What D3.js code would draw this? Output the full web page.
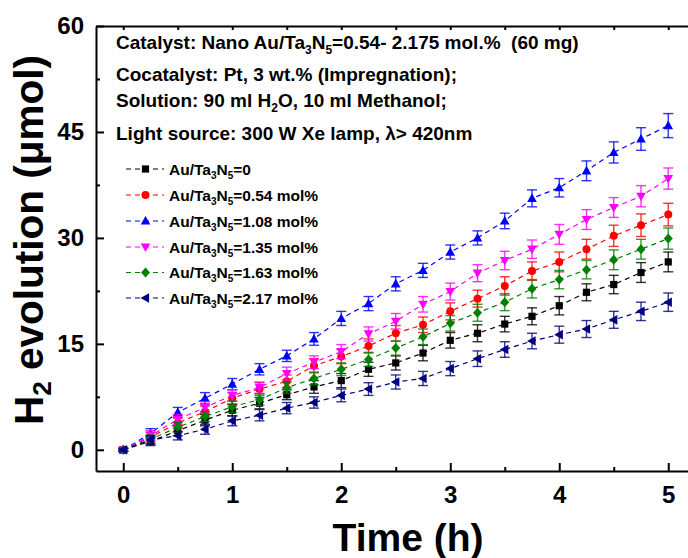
<!DOCTYPE html>
<html>
<head>
<meta charset="utf-8">
<script src="https://cdn.jsdelivr.net/npm/d3@7"></script>
<style>
  body { margin: 0; background: #fff; }
  svg { display: block; font-family: "Liberation Sans", Arial, sans-serif; font-weight: bold; }
</style>
</head>
<body>
<svg id="chart" width="688" height="558"></svg>
<script>
// Irradiation time (h)
const times = [0, 0.25, 0.5, 0.75, 1, 1.25, 1.5, 1.75, 2, 2.25, 2.5, 2.75, 3, 3.25, 3.5, 3.75, 4, 4.25, 4.5, 4.75, 5];

// H2 evolved (umol) for each Au loading
const h2Au000 = [0, 1.2, 2.7, 4.2, 5.6, 6.6, 7.8, 8.9, 9.8, 11.4, 12.3, 13.7, 15.5, 16.5, 17.8, 18.9, 20.4, 22.3, 23.4, 25.1, 26.6];
const h2Au054 = [0, 1.8, 3.8, 5.4, 7.3, 8.6, 9.7, 11.9, 13.2, 14.7, 16.5, 17.7, 19.6, 21.4, 23.2, 25.3, 26.6, 28.4, 30.3, 31.8, 33.3];
const h2Au108 = [0, 2.3, 5.3, 7.3, 9.3, 11.4, 13.3, 15.7, 18.6, 20.7, 23.5, 25.4, 28.0, 30.0, 32.4, 35.6, 37.1, 39.5, 42.1, 44.0, 45.9];
const h2Au135 = [0, 2.0, 4.3, 6.0, 7.7, 8.8, 10.8, 12.4, 13.9, 16.4, 18.2, 20.6, 22.4, 25.0, 26.8, 28.4, 30.5, 32.6, 34.3, 35.9, 38.4];
const h2Au163 = [0, 1.5, 3.2, 4.7, 6.1, 7.1, 8.8, 10.1, 11.4, 12.8, 14.4, 16.0, 17.9, 19.4, 20.9, 22.8, 24.1, 25.5, 26.9, 28.4, 29.9];
const h2Au217 = [0, 1.4, 2.0, 2.9, 4.1, 4.9, 5.9, 6.7, 7.7, 8.6, 9.6, 10.1, 11.5, 12.9, 14.2, 15.4, 16.3, 17.1, 18.4, 19.6, 20.9];

// Standard deviations (umol)
const errAu000 = [0.2, 0.6, 0.7, 0.8, 0.8, 0.8, 0.7, 0.9, 1.0, 1.0, 1.0, 1.1, 1.1, 1.2, 1.1, 1.2, 1.3, 1.2, 1.3, 1.4, 1.4];
const errAu054 = [0.2, 0.7, 0.7, 0.8, 0.8, 0.9, 0.9, 1.0, 1.0, 1.0, 1.1, 1.1, 1.2, 1.2, 1.3, 1.3, 1.4, 1.4, 1.5, 1.6, 1.6];
const errAu108 = [0.2, 0.7, 0.7, 0.8, 0.8, 0.8, 0.8, 0.9, 1.0, 1.0, 1.0, 1.0, 1.0, 1.0, 1.1, 1.2, 1.3, 1.4, 1.5, 1.6, 1.7];
const errAu135 = [0.2, 0.7, 0.7, 0.8, 0.8, 0.8, 0.9, 0.9, 1.0, 1.0, 1.1, 1.1, 1.2, 1.2, 1.3, 1.3, 1.4, 1.4, 1.4, 1.5, 1.5];
const errAu163 = [0.2, 0.6, 0.7, 0.7, 0.8, 0.8, 0.8, 0.9, 0.9, 1.0, 1.0, 1.1, 1.1, 1.2, 1.2, 1.3, 1.3, 1.3, 1.4, 1.4, 1.5];
const errAu217 = [0.2, 0.6, 0.6, 0.7, 0.7, 0.8, 0.8, 0.8, 0.9, 0.9, 1.0, 1.0, 1.0, 1.1, 1.1, 1.1, 1.2, 1.2, 1.2, 1.3, 1.3];

const seriesLabels = ["=0", "=0.54 mol%", "=1.08 mol%", "=1.35 mol%", "=1.63 mol%", "=2.17 mol%"];

const xTicks = [0, 1, 2, 3, 4, 5];
const yTicks = [0, 15, 30, 45, 60];

const infoLines = [
  [["Catalyst: Nano Au/Ta", 0], ["3", 1], ["N", 0], ["5", 1], ["=0.54- 2.175 mol.%\u00a0\u00a0(60 mg)", 0]],
  [["Cocatalyst: Pt, 3 wt.% (Impregnation);", 0]],
  [["Solution: 90 ml H", 0], ["2", 1], ["O, 10 ml Methanol;", 0]],
  [["Light source: 300 W Xe lamp, \u03bb> 420nm", 0]]
];

const series = [
  { values: h2Au000, errors: errAu000, color: "#000000", shape: "square" },
  { values: h2Au054, errors: errAu054, color: "#ff0000", shape: "circle" },
  { values: h2Au108, errors: errAu108, color: "#0000ff", shape: "triUp" },
  { values: h2Au135, errors: errAu135, color: "#ff00ff", shape: "triDown" },
  { values: h2Au163, errors: errAu163, color: "#008000", shape: "diamond" },
  { values: h2Au217, errors: errAu217, color: "#000080", shape: "triLeft" }
];

const svg = d3.select("#chart");

const x = d3.scaleLinear().domain([-0.25, 5.25]).range([96, 695.5]);
const y = d3.scaleLinear().domain([-3, 60]).range([471, 26]);

// marker outlines, centred on the origin
function markerPath(shape) {
  const p = d3.path();
  if (shape === "square") {
    p.rect(-3.6, -3.6, 7.2, 7.2);
  } else if (shape === "circle") {
    p.arc(0, 0, 4, 0, 2 * Math.PI);
  } else if (shape === "triUp") {
    p.moveTo(0, -5); p.lineTo(4.8, 3.6); p.lineTo(-4.8, 3.6); p.closePath();
  } else if (shape === "triDown") {
    p.moveTo(0, 5); p.lineTo(4.8, -3.6); p.lineTo(-4.8, -3.6); p.closePath();
  } else if (shape === "diamond") {
    p.moveTo(0, -5); p.lineTo(4.5, 0); p.lineTo(0, 5); p.lineTo(-4.5, 0); p.closePath();
  } else if (shape === "triLeft") {
    p.moveTo(-5, 0); p.lineTo(3.6, -4.8); p.lineTo(3.6, 4.8); p.closePath();
  }
  return p.toString();
}

// text with subscript runs
function richText(sel, parts, subSize, shift) {
  let down = false;
  parts.forEach(([txt, sub]) => {
    const t = sel.append("tspan").text(txt);
    if (sub && !down) { t.attr("dy", shift).attr("font-size", subSize); down = true; }
    else if (sub) { t.attr("font-size", subSize); }
    else if (!sub && down) { t.attr("dy", -shift); down = false; }
  });
}

// ---- data ----
const plot = svg.append("g");
const line = d3.line().x((d, i) => x(times[i])).y(d => y(d));

series.forEach(s => {
  const g = plot.append("g");
  g.append("path")
    .datum(s.values)
    .attr("d", line)
    .attr("fill", "none")
    .attr("stroke", s.color)
    .attr("stroke-width", 1.2)
    .attr("stroke-dasharray", "5,4");

  const eb = g.append("g")
    .attr("stroke", s.color)
    .attr("stroke-width", 1.4)
    .attr("stroke-opacity", 0.8)
    .attr("fill", "none");
  s.values.forEach((v, i) => {
    const e = s.errors[i];
    const cx = x(times[i]);
    const y0 = y(v - e), y1 = y(v + e);
    eb.append("line").attr("x1", cx).attr("x2", cx).attr("y1", y0).attr("y2", y1);
    eb.append("line").attr("x1", cx - 5).attr("x2", cx + 5).attr("y1", y0).attr("y2", y0);
    eb.append("line").attr("x1", cx - 5).attr("x2", cx + 5).attr("y1", y1).attr("y2", y1);
  });

  g.selectAll("path.mk")
    .data(s.values)
    .join("path")
    .attr("class", "mk")
    .attr("d", markerPath(s.shape))
    .attr("transform", (d, i) => `translate(${x(times[i])},${y(d)})`)
    .attr("fill", s.color);
});

// ---- axes (ticks point inward) ----
const xMinor = d3.range(0, 5.01, 0.5).filter(v => !xTicks.includes(v));
const yMinor = [7.5, 22.5, 37.5, 52.5];

const axisStyle = g => {
  g.select(".domain").attr("stroke-width", 2).attr("stroke", "#000");
  g.selectAll(".tick line").attr("stroke-width", 2);
};

const xAxis = svg.append("g")
  .attr("transform", `translate(0,${y(-3)})`)
  .call(d3.axisBottom(x).tickValues(xTicks).tickSizeInner(-8).tickSizeOuter(0).tickPadding(15).tickFormat(d3.format("d")))
  .call(axisStyle);
xAxis.selectAll(".tick text").attr("font-size", 24).attr("font-family", "Liberation Sans, Arial, sans-serif").attr("font-weight", "bold").attr("fill", "#000");
svg.append("g")
  .attr("transform", `translate(0,${y(-3)})`)
  .call(d3.axisBottom(x).tickValues(xMinor).tickSizeInner(-4).tickSizeOuter(0).tickFormat(""))
  .call(g => g.select(".domain").remove())
  .call(g => g.selectAll(".tick line").attr("stroke-width", 2));

const yAxis = svg.append("g")
  .attr("transform", `translate(${x(-0.25)},0)`)
  .call(d3.axisLeft(y).tickValues(yTicks).tickSizeInner(-8).tickSizeOuter(0).tickPadding(12).tickFormat(d3.format("d")))
  .call(axisStyle);
yAxis.selectAll(".tick text").attr("font-size", 24).attr("font-family", "Liberation Sans, Arial, sans-serif").attr("font-weight", "bold").attr("fill", "#000");
svg.append("g")
  .attr("transform", `translate(${x(-0.25)},0)`)
  .call(d3.axisLeft(y).tickValues(yMinor).tickSizeInner(-4).tickSizeOuter(0).tickFormat(""))
  .call(g => g.select(".domain").remove())
  .call(g => g.selectAll(".tick line").attr("stroke-width", 2));

// mirrored top and right axes
svg.append("g")
  .attr("transform", `translate(0,${y(60)})`)
  .call(d3.axisTop(x).tickValues(xTicks.concat(xMinor)).tickSizeInner(-4).tickSizeOuter(0).tickFormat(""))
  .call(axisStyle);
svg.append("g")
  .attr("transform", `translate(${x(5.25)},0)`)
  .call(d3.axisRight(y).tickValues(yTicks.concat(yMinor)).tickSizeInner(-4).tickSizeOuter(0).tickFormat(""))
  .call(axisStyle);

// ---- axis titles ----
svg.append("text")
  .attr("x", 408).attr("y", 551)
  .attr("text-anchor", "middle")
  .attr("font-size", 39)
  .text("Time (h)");

const yTitle = svg.append("text")
  .attr("transform", "translate(43,240) rotate(-90)")
  .attr("text-anchor", "middle")
  .attr("font-size", 40.5);
richText(yTitle, [["H", 0], ["2", 1], [" evolution (\u03bcmol)", 0]], 26, 8);

// ---- experimental conditions ----
const infoY = [49, 81, 107, 140];
infoLines.forEach((parts, i) => {
  const t = svg.append("text").attr("x", 116).attr("y", infoY[i]).attr("font-size", 19);
  richText(t, parts, 12, 5);
});

// ---- legend ----
const legY = [169, 195, 221, 247, 272.5, 298];
series.forEach((s, i) => {
  const g = svg.append("g").attr("transform", `translate(0,${legY[i]})`);
  g.append("line")
    .attr("x1", 126).attr("x2", 164)
    .attr("stroke", s.color).attr("stroke-width", 1.2)
    .attr("stroke-dasharray", "5,4");
  g.append("path")
    .attr("d", markerPath(s.shape))
    .attr("transform", "translate(145.5,0)")
    .attr("fill", s.color);
  const t = g.append("text").attr("x", 169).attr("y", 5.5).attr("font-size", 15.5);
  richText(t, [["Au/Ta", 0], ["3", 1], ["N", 0], ["5", 1], [seriesLabels[i], 0]], 10, 4);
});
</script>
</body>
</html>
